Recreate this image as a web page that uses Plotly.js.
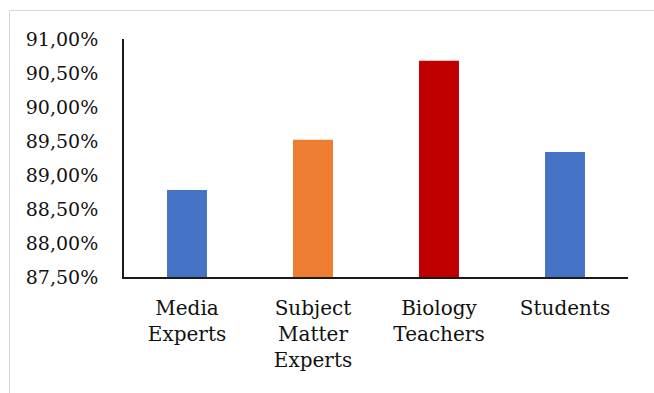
<!DOCTYPE html>
<html>
<head>
<meta charset="utf-8">
<script src="https://cdn.plot.ly/plotly-3.0.1.min.js"></script>
<style>
  html, body { margin: 0; padding: 0; background: #fff; }
  #frame {
    position: absolute; left: 9px; top: 10px;
    width: 645px; height: 383px;
    border-left: 1.5px solid #d9d9d9; border-top: 1.5px solid #d9d9d9;
    box-sizing: border-box;
  }
  #chart { width: 100%; height: 100%; }
</style>
</head>
<body>
<div id="frame"><div id="chart"></div></div>
<script>
// Agreement scores by respondent group
const categories = ['Media<br>Experts', 'Subject<br>Matter<br>Experts', 'Biology<br>Teachers', 'Students'];
const scores = [0.8878, 0.8952, 0.9068, 0.8934];
const barColors = ['#4472C4', '#ED7D31', '#C00000', '#4472C4'];
const tickValues = [0.875, 0.88, 0.885, 0.89, 0.895, 0.90, 0.905, 0.91];
const tickLabels = ['87,50%', '88,00%', '88,50%', '89,00%', '89,50%', '90,00%', '90,50%', '91,00%'];

const yFont = { family: 'DejaVu Serif, serif', size: 19, color: '#111' };
const xFont = { family: 'DejaVu Serif, serif', size: 20, color: '#111' };

Plotly.newPlot('chart', [{
  type: 'bar',
  x: categories,
  y: scores,
  marker: { color: barColors },
  hoverinfo: 'none'
}], {
  width: 644, height: 382,
  margin: { l: 114, r: 26, t: 28, b: 116 },
  paper_bgcolor: '#fff',
  plot_bgcolor: '#fff',
  bargap: 0.683,
  showlegend: false,
  font: yFont,
  xaxis: {
    showline: true, linecolor: '#1a1a1a', linewidth: 2,
    showgrid: false, zeroline: false,
    ticks: 'outside', ticklen: 12, tickcolor: 'rgba(0,0,0,0)',
    tickfont: xFont
  },
  yaxis: {
    range: [0.875, 0.91],
    tickvals: tickValues, ticktext: tickLabels,
    showline: true, linecolor: '#1a1a1a', linewidth: 2,
    showgrid: false, zeroline: false,
    ticks: 'outside', ticklen: 20, tickcolor: 'rgba(0,0,0,0)',
    tickfont: yFont
  }
}, { staticPlot: true, displayModeBar: false });
</script>
</body>
</html>
